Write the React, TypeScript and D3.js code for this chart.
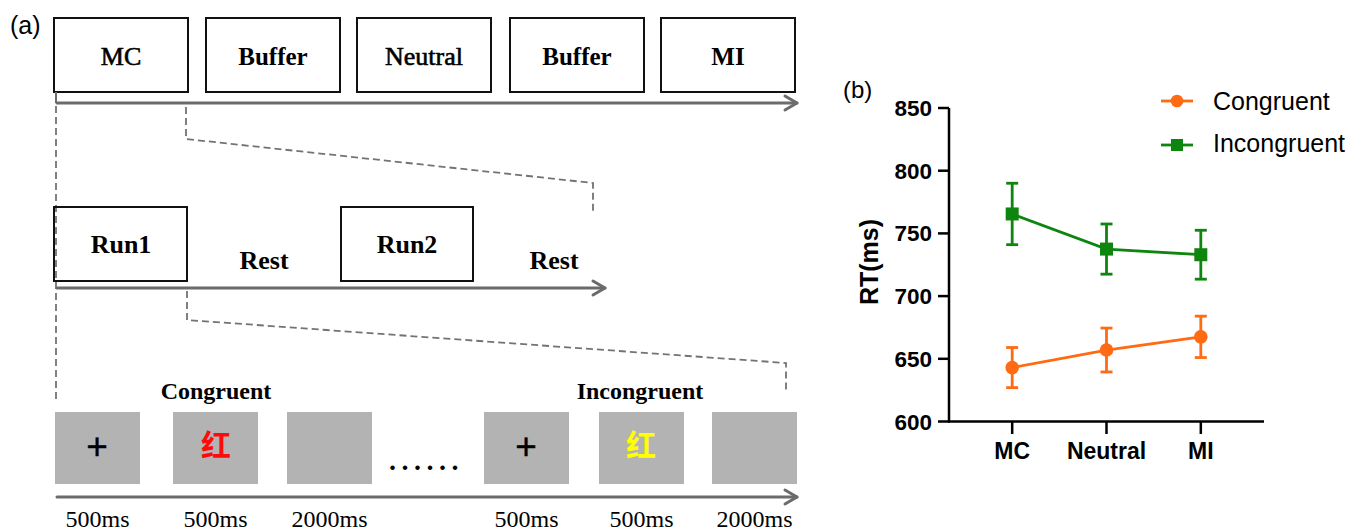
import React from "react";
import * as d3 from "d3";

// ---------- data ----------
const categories = ["MC", "Neutral", "MI"];
const congruentMean = [643, 657, 667.5];
const congruentErr = [16, 17.5, 16.5];
const incongruentMean = [765.5, 737.5, 733];
const incongruentErr = [24.5, 20, 19.5];
const yTicks = [600, 650, 700, 750, 800, 850];
const seriesNames = ["Congruent", "Incongruent"];

const blockLabels = ["MC", "Buffer", "Neutral", "Buffer", "MI"];
const blockBold = [false, true, false, true, true];
const runLabels = ["Run1", "Rest", "Run2", "Rest"];
const trialDurations = ["500ms", "500ms", "2000ms", "500ms", "500ms", "2000ms"];
const trialConditions = ["Congruent", "Incongruent"];

const ORANGE = "#ff6a13";
const GREEN = "#0e850e";
const ARROW = "#6b6b6b";
const DASH = "#737373";
const SERIF = "'Liberation Serif', 'Times New Roman', serif";
const SANS = "'Liberation Sans', Arial, sans-serif";

function Arrow({ x1, x2, y }: { x1: number; x2: number; y: number }) {
  return (
    <g stroke={ARROW} strokeWidth={3} fill="none" strokeLinecap="round">
      <line x1={x1} y1={y} x2={x2} y2={y} />
      <polyline points={`${x2 - 12},${y - 7} ${x2},${y} ${x2 - 12},${y + 7}`} strokeLinejoin="round" />
    </g>
  );
}

function PanelA() {
  const topX = [54, 206, 357, 510, 661];
  const topW = 134;
  const trialX = [55, 173, 287, 484, 599, 712];
  const trialW = 85;
  return (
    <g>
      <text x={10} y={34} fontFamily={SANS} fontSize={25}>(a)</text>
      {/* top row */}
      {blockLabels.map((t, i) => (
        <g key={"b" + i}>
          <rect x={topX[i]} y={18} width={topW} height={74} fill="white" stroke="#111" strokeWidth={2} />
          <text x={topX[i] + topW / 2} y={65} textAnchor="middle" fontFamily={SERIF}
            fontSize={blockBold[i] ? 25 : 26}
            stroke={blockBold[i] ? "none" : "#000"} strokeWidth={0.6}
            fontWeight={blockBold[i] ? "bold" : "normal"}>{t}</text>
        </g>
      ))}
      <line x1={56} y1={92} x2={56} y2={103} stroke={ARROW} strokeWidth={2} />
      <Arrow x1={57} x2={797} y={103} />
      {/* dashed connectors */}
      <g stroke={DASH} strokeWidth={1.8} strokeDasharray="7,4" fill="none">
        <line x1={56} y1={106} x2={56} y2={403} />
        <polyline points="186,107 186,139 593,183 593,213" />
        <polyline points="187,291 187,320 786,363 786,390" />
      </g>
      {/* run row */}
      <rect x={54} y={207} width={133} height={74} fill="none" stroke="#111" strokeWidth={2} />
      <rect x={341} y={207} width={132} height={74} fill="none" stroke="#111" strokeWidth={2} />
      <text x={121} y={253} textAnchor="middle" fontFamily={SERIF} fontSize={26} fontWeight="bold">{runLabels[0]}</text>
      <text x={264} y={269} textAnchor="middle" fontFamily={SERIF} fontSize={26} fontWeight="bold">{runLabels[1]}</text>
      <text x={407} y={253} textAnchor="middle" fontFamily={SERIF} fontSize={26} fontWeight="bold">{runLabels[2]}</text>
      <text x={554} y={269} textAnchor="middle" fontFamily={SERIF} fontSize={26} fontWeight="bold">{runLabels[3]}</text>
      <Arrow x1={57} x2={605} y={288} />
      {/* trial row */}
      <text x={216} y={399} textAnchor="middle" fontFamily={SERIF} fontSize={24} fontWeight="bold">{trialConditions[0]}</text>
      <text x={640} y={399} textAnchor="middle" fontFamily={SERIF} fontSize={24} fontWeight="bold">{trialConditions[1]}</text>
      {trialX.map((x, i) => (
        <g key={"t" + i}>
          <rect x={x} y={412} width={trialW} height={72} fill="#b3b3b3" />
          <text x={x + trialW / 2} y={527} textAnchor="middle" fontFamily={SERIF} fontSize={24}>{trialDurations[i]}</text>
        </g>
      ))}
      <text x={97} y={459} textAnchor="middle" fontFamily={SANS} fontSize={37} stroke="#000" strokeWidth={0.4}>+</text>
      <text x={526} y={459} textAnchor="middle" fontFamily={SANS} fontSize={37} stroke="#000" strokeWidth={0.4}>+</text>
      <text x={216} y={456} textAnchor="middle" fontFamily="'Noto Sans CJK SC', sans-serif" fontSize={30} fontWeight="bold" fill="#ff0a0a">红</text>
      <text x={641} y={456} textAnchor="middle" fontFamily="'Noto Sans CJK SC', sans-serif" fontSize={30} fontWeight="bold" fill="#ffff00">红</text>
      <text x={389} y={470} fontFamily={SERIF} fontSize={28} fontWeight="bold" letterSpacing={5.5}>......</text>
      <Arrow x1={57} x2={797} y={497} />
    </g>
  );
}

function PanelB() {
  const y = d3.scaleLinear().domain([600, 850]).range([421.5, 108]);
  const x = d3.scalePoint<string>().domain(categories).range([949, 1264]).padding(0.67);
  const series = [
    { name: seriesNames[0], mean: congruentMean, err: congruentErr, color: ORANGE, shape: "circle" },
    { name: seriesNames[1], mean: incongruentMean, err: incongruentErr, color: GREEN, shape: "square" },
  ];
  const line = d3.line<number>().x((_, i) => x(categories[i])!).y((d) => y(d));
  return (
    <g>
      <text x={843} y={98} fontFamily={SANS} fontSize={24}>(b)</text>
      {/* axes */}
      <line x1={949} y1={108} x2={949} y2={422.5} stroke="#000" strokeWidth={2.5} />
      <line x1={948} y1={421.5} x2={1264} y2={421.5} stroke="#000" strokeWidth={2.5} />
      {yTicks.map((t) => (
        <g key={t}>
          <line x1={938} x2={949} y1={y(t)} y2={y(t)} stroke="#000" strokeWidth={2.5} />
          <text x={932} y={y(t) + 8} textAnchor="end" fontFamily={SANS} fontWeight="bold" fontSize={22.5}>{t}</text>
        </g>
      ))}
      {categories.map((c) => (
        <g key={c}>
          <line x1={x(c)} x2={x(c)} y1={421.5} y2={434} stroke="#000" strokeWidth={2.5} />
          <text x={x(c)} y={459} textAnchor="middle" fontFamily={SANS} fontWeight="bold" fontSize={23}>{c}</text>
        </g>
      ))}
      <text transform="translate(878,262) rotate(-90)" textAnchor="middle" fontFamily={SANS} fontWeight="bold" fontSize={25}>RT(ms)</text>
      {/* series */}
      {series.map((s) => (
        <g key={s.name}>
          <path d={line(s.mean)!} fill="none" stroke={s.color} strokeWidth={2.8} />
          {s.mean.map((m, i) => {
            const cx = x(categories[i])!;
            const top = y(m + s.err[i]);
            const bot = y(m - s.err[i]);
            return (
              <g key={i} stroke={s.color} strokeWidth={2.8}>
                <line x1={cx} x2={cx} y1={top} y2={bot} />
                <line x1={cx - 6} x2={cx + 6} y1={top} y2={top} />
                <line x1={cx - 6} x2={cx + 6} y1={bot} y2={bot} />
                {s.shape === "circle" ? (
                  <circle cx={cx} cy={y(m)} r={6.8} fill={s.color} stroke="none" />
                ) : (
                  <rect x={cx - 6.5} y={y(m) - 6.5} width={13} height={13} fill={s.color} stroke="none" />
                )}
              </g>
            );
          })}
        </g>
      ))}
      {/* legend */}
      {series.map((s, i) => {
        const ly = 101 + i * 44;
        return (
          <g key={"l" + s.name}>
            <line x1={1161} x2={1193} y1={ly} y2={ly} stroke={s.color} strokeWidth={2.8} />
            {s.shape === "circle" ? (
              <circle cx={1177} cy={ly} r={6.3} fill={s.color} />
            ) : (
              <rect x={1171} y={ly - 6} width={12} height={12} fill={s.color} />
            )}
            <text x={1213} y={ly + 9 - i * 2} fontFamily={SANS} fontSize={25}>{s.name}</text>
          </g>
        );
      })}
    </g>
  );
}

export default function App() {
  return (
    <div style={{ position: "absolute", left: 0, top: 0 }}>
      <svg width={1364} height={531} style={{ display: "block", background: "white" }}>
        <PanelA />
        <PanelB />
      </svg>
    </div>
  );
}
